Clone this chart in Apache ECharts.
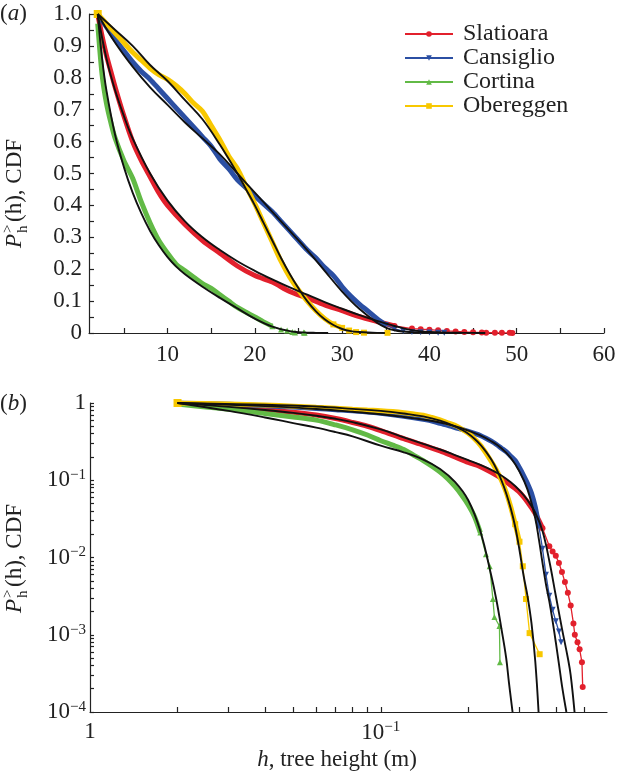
<!DOCTYPE html>
<html>
<head>
<meta charset="utf-8">
<script src="https://cdn.jsdelivr.net/npm/echarts@6/dist/echarts.min.js"></script>
<style>
html,body{margin:0;padding:0;background:#fff;}
#c{width:621px;height:778px;}
</style>
</head>
<body>
<div id="c"></div>
<script>
// ---------- data (tree height h in m, CDF P) ----------
const siteNames = ['Slatioara', 'Cansiglio', 'Cortina', 'Obereggen'];

// panel (a) values
const hSlatioara = [2, 2.5, 3, 3.5, 4, 5, 6, 7, 8, 9, 10, 12, 14, 16, 18, 20, 22, 24, 26, 28, 30, 32, 34, 36, 38, 39, 40, 41, 42, 43, 44, 45, 46, 46.5, 47.5, 48.3, 49.2, 49.5];
const pSlatioara = [1.0, 0.93, 0.87, 0.82, 0.77, 0.68, 0.60, 0.54, 0.49, 0.44, 0.40, 0.34, 0.29, 0.25, 0.21, 0.18, 0.16, 0.13, 0.11, 0.088, 0.07, 0.051, 0.036, 0.022, 0.014, 0.012, 0.0105, 0.0085, 0.0065, 0.0048, 0.0035, 0.0024, 0.0014, 0.001, 0.0008, 0.00065, 0.00044, 0.00021];

const hCansiglio = [2, 3, 4, 5, 6, 7, 8, 9, 10, 11, 12, 13, 14, 15, 16, 17, 18, 19, 20, 21, 22, 23, 24, 25, 26, 27, 28, 29, 30, 31, 32, 33, 34, 35, 36, 37, 38, 39, 40, 41, 41.7];
const pCansiglio = [1.0, 0.96, 0.92, 0.885, 0.85, 0.82, 0.795, 0.765, 0.735, 0.705, 0.675, 0.645, 0.615, 0.585, 0.545, 0.515, 0.48, 0.455, 0.43, 0.405, 0.38, 0.35, 0.32, 0.29, 0.26, 0.235, 0.205, 0.18, 0.145, 0.115, 0.09, 0.068, 0.045, 0.025, 0.013, 0.006, 0.0032, 0.0021, 0.0015, 0.0011, 0.0008];

const hCortina = [2, 2.5, 3, 3.5, 4, 5, 6, 7, 8, 9, 10, 11, 12, 13, 14, 15, 16, 17, 18, 19, 20, 21, 22, 23, 23.7, 24.3, 24.6, 25.6, 25.7];
const pCortina = [0.97, 0.81, 0.72, 0.66, 0.61, 0.54, 0.485, 0.41, 0.345, 0.29, 0.25, 0.215, 0.195, 0.175, 0.155, 0.14, 0.12, 0.10, 0.08, 0.065, 0.05, 0.035, 0.021, 0.011, 0.0077, 0.0029, 0.0017, 0.0013, 0.00044];

const hObereggen = [2, 3, 4, 5, 6, 7, 8, 9, 10, 11, 12, 13, 14, 15, 16, 17, 18, 19, 20, 21, 22, 23, 24, 25, 26, 27, 28, 29, 30, 30.8, 31.6, 32.5, 35.2];
const pObereggen = [1.0, 0.97, 0.94, 0.91, 0.88, 0.855, 0.83, 0.81, 0.795, 0.775, 0.75, 0.72, 0.695, 0.65, 0.605, 0.555, 0.515, 0.46, 0.405, 0.345, 0.285, 0.225, 0.175, 0.135, 0.1, 0.07, 0.045, 0.027, 0.016, 0.0077, 0.0029, 0.00105, 0.00056];

const hSlatioaraLog = [2, 3, 4, 5, 6, 7, 8, 9, 10, 12, 14, 16, 18, 20, 22, 24, 26, 28, 30, 32, 34, 36, 38, 39, 40, 41, 42, 43, 44, 45, 46, 46.5, 47.5, 48.3, 49.2, 49.5];
const pSlatioaraLog = [1.0, 0.9, 0.82, 0.76, 0.7, 0.63, 0.56, 0.5, 0.44, 0.345, 0.285, 0.24, 0.2, 0.17, 0.15, 0.127, 0.106, 0.086, 0.07, 0.052, 0.037, 0.024, 0.014, 0.012, 0.0105, 0.0085, 0.0065, 0.0048, 0.0035, 0.0024, 0.0014, 0.001, 0.0008, 0.00065, 0.00044, 0.00021];

const hCortinaLog = [2, 2.5, 3, 3.5, 4, 5, 6, 7, 8, 9, 10, 11, 12, 13, 14, 15, 16, 17, 18, 19, 20, 21, 22, 23, 23.7, 24.3, 24.6, 25.6, 25.7];
const pCortinaLog = [0.97, 0.89, 0.83, 0.78, 0.73, 0.66, 0.6, 0.52, 0.45, 0.385, 0.325, 0.285, 0.25, 0.21, 0.18, 0.152, 0.128, 0.105, 0.083, 0.064, 0.048, 0.034, 0.021, 0.011, 0.0077, 0.0029, 0.0017, 0.0013, 0.00044];

// fitted curves (black)
const hFitSlatioara = [2, 3, 4, 5, 6, 8, 10, 12, 14, 16, 18, 20, 22, 24, 26, 28, 30, 32, 34, 36, 38, 40, 42, 44, 45, 46.4];
const pFitSlatioara = [1.0, 0.86, 0.76, 0.68, 0.61, 0.50, 0.415, 0.35, 0.30, 0.26, 0.225, 0.195, 0.168, 0.143, 0.12, 0.097, 0.076, 0.056, 0.038, 0.022, 0.009, 0.0032, 0.0012, 0.0005, 0.0003, 0.0001];

const hFitSlatioaraLog = [2, 3, 4, 5, 6, 7, 8, 10, 12, 14, 16, 18, 20, 22, 24, 26, 28, 30, 32, 34, 36, 38, 40, 42, 44, 45, 46.4];
const pFitSlatioaraLog = [1.0, 0.89, 0.81, 0.745, 0.685, 0.625, 0.565, 0.455, 0.36, 0.295, 0.25, 0.212, 0.182, 0.158, 0.136, 0.115, 0.094, 0.074, 0.055, 0.038, 0.022, 0.009, 0.0032, 0.0012, 0.0005, 0.0003, 0.0001];

const hFitCansiglio = [2, 4, 6, 8, 10, 12, 14, 16, 18, 20, 22, 24, 26, 28, 30, 32, 34, 35, 36, 37, 38, 39, 40, 41, 42, 43.5];
const pFitCansiglio = [1.0, 0.91, 0.835, 0.77, 0.715, 0.66, 0.61, 0.56, 0.5, 0.44, 0.38, 0.32, 0.26, 0.195, 0.13, 0.075, 0.032, 0.017, 0.0085, 0.0045, 0.0027, 0.0015, 0.0008, 0.00042, 0.00022, 0.0001];

const hFitCortina = [2, 2.5, 3, 4, 5, 6, 7, 8, 9, 10, 11, 12, 14, 16, 18, 20, 22, 24, 25, 26, 27, 27.6, 28.4];
const pFitCortina = [1.0, 0.86, 0.76, 0.62, 0.52, 0.44, 0.375, 0.32, 0.275, 0.238, 0.208, 0.184, 0.145, 0.11, 0.077, 0.045, 0.02, 0.0058, 0.0028, 0.0012, 0.0005, 0.00024, 0.0001];

const hFitCortinaLog = [2, 3, 4, 5, 6, 7, 8, 10, 12, 14, 16, 18, 20, 22, 24, 25, 26, 27, 27.6, 28.4];
const pFitCortinaLog = [1.0, 0.79, 0.65, 0.55, 0.48, 0.42, 0.37, 0.28, 0.23, 0.185, 0.14, 0.095, 0.055, 0.022, 0.0058, 0.0028, 0.0012, 0.0005, 0.00024, 0.0001];

const hFitObereggen = [2, 4, 6, 8, 10, 12, 14, 16, 18, 19, 20, 21, 22, 23, 24, 25, 26, 27, 28, 29, 30, 31, 32, 33, 34, 34.9];
const pFitObereggen = [1.0, 0.95, 0.9, 0.84, 0.79, 0.73, 0.67, 0.59, 0.5, 0.45, 0.4, 0.345, 0.29, 0.235, 0.185, 0.14, 0.1, 0.068, 0.043, 0.025, 0.0125, 0.0058, 0.0031, 0.0014, 0.00045, 0.0001];

// tick labels
const xLabelsA = [10, 20, 30, 40, 50, 60];
const xTicksA = [5, 10, 15, 20, 25, 30, 35, 40, 45, 50, 55, 60];
const xLabelsB = [1, 10];
const xTicksB = [2, 3, 4, 5, 6, 7, 8, 9, 10, 20, 30, 40, 50];
const yLabelsB = [1, 0.1, 0.01, 0.001, 0.0001];
const yLabelTextB = {1: '1', 0.1: '−1', 0.01: '−2', 0.001: '−3', 0.0001: '−4'};
const xLabelTextB = {1: '1', 10: '−1'};

// ---------- styles ----------
const FONT = '"Liberation Serif", "Times New Roman", serif';
const colors = ['#e2202c', '#2b4fa3', '#62ba46', '#f8c800'];
const symbols = ['circle', 'triangle', 'triangle', 'rect'];
const symbolRot = [0, 180, 0, 0];
const panelH = [
  [hSlatioara, hCansiglio, hCortina, hObereggen],
  [hSlatioaraLog, hCansiglio, hCortinaLog, hObereggen]
];
const panelP = [
  [pSlatioara, pCansiglio, pCortina, pObereggen],
  [pSlatioaraLog, pCansiglio, pCortinaLog, pObereggen]
];
const panelFitH = [
  [hFitSlatioara, hFitCansiglio, hFitCortina, hFitObereggen],
  [hFitSlatioaraLog, hFitCansiglio, hFitCortinaLog, hFitObereggen]
];
const panelFitP = [
  [pFitSlatioara, pFitCansiglio, pFitCortina, pFitObereggen],
  [pFitSlatioaraLog, pFitCansiglio, pFitCortinaLog, pFitObereggen]
];

function zip(h, p) { return h.map((v, i) => [v, p[i]]); }

const yTicksB = [];
[0.0001, 0.001, 0.01, 0.1].forEach(d => { for (let k = 1; k <= 9; k++) yTicksB.push(+(d * k).toPrecision(3)); });
yTicksB.push(1);

const series = [];
for (let panel = 0; panel < 2; panel++) {
  for (let s = 0; s < 4; s++) {
    const all = zip(panelH[panel][s], panelP[panel][s]);
    const band = all.filter(d => d[1] >= 0.015).map((d, i) =>
      (i === 0 && s === 3) ? {value: d, symbol: 'rect', symbolSize: 8} : {value: d});
    series.push({
      name: siteNames[s] + ' band', type: 'line', xAxisIndex: panel, yAxisIndex: panel,
      data: band, symbol: 'none', showSymbol: true, showAllSymbol: true, smooth: 0.3,
      lineStyle: {color: colors[s], width: 5}, itemStyle: {color: colors[s]}, z: 2, silent: true
    });
    series.push({
      name: siteNames[s], type: 'line', xAxisIndex: panel, yAxisIndex: panel,
      data: all.filter(d => d[1] <= 0.03), symbol: symbols[s], symbolRotate: symbolRot[s],
      symbolSize: 6, showAllSymbol: true,
      lineStyle: {color: colors[s], width: 1.3}, itemStyle: {color: colors[s]}, z: 3, silent: true
    });
  }
  for (let s = 0; s < 4; s++) {
    series.push({
      name: siteNames[s] + ' fit', type: 'line', xAxisIndex: panel, yAxisIndex: panel,
      data: zip(panelFitH[panel][s], panelFitP[panel][s]), showSymbol: false, smooth: 0.4,
      lineStyle: {color: '#111', width: 1.9}, z: 5, silent: true
    });
  }
}

const axisLineStyle = {color: '#222', width: 1.2};
const labelBase = {fontFamily: FONT, fontSize: 23, color: '#222'};
const richSup = {
  b: {fontFamily: FONT, fontSize: 23, color: '#222'},
  s: {fontFamily: FONT, fontSize: 15, color: '#222', verticalAlign: 'top', padding: [0, 0, 10, 0]}
};

const option = {
  animation: false,
  backgroundColor: '#fff',
  grid: [
    {left: 89, top: 14, width: 515, height: 319},
    {left: 90, top: 403, width: 517, height: 309}
  ],
  legend: {
    data: siteNames.map(n => ({name: n})),
    orient: 'vertical', left: 404, top: 22, padding: 0, itemWidth: 48, itemHeight: 7, itemGap: 0,
    textStyle: {fontFamily: FONT, fontSize: 24, color: '#222', lineHeight: 21.6, padding: [0, 0, 0, 5]},
    selectedMode: false
  },
  xAxis: [
    {
      gridIndex: 0, type: 'value', min: 1, max: 60,
      axisLine: {lineStyle: axisLineStyle},
      axisTick: {inside: true, length: 5, customValues: xTicksA, lineStyle: axisLineStyle},
      axisLabel: Object.assign({customValues: xLabelsA, margin: 10}, labelBase),
      splitLine: {show: false}
    },
    {
      gridIndex: 1, type: 'log', logBase: 10, min: 1, max: 60,
      axisLine: {lineStyle: axisLineStyle},
      axisTick: {inside: true, length: 5, customValues: xTicksB, lineStyle: axisLineStyle},
      axisLabel: {
        customValues: xLabelsB, margin: 8,
        formatter: v => v === 1 ? '{b|1}' : '{b|10}{s|' + xLabelTextB[10] + '}',
        rich: richSup
      },
      splitLine: {show: false}, minorTick: {show: false}
    }
  ],
  yAxis: [
    {
      gridIndex: 0, type: 'value', min: 0, max: 1, interval: 0.1,
      axisLine: {show: true, lineStyle: axisLineStyle},
      axisTick: {show: true, inside: true, length: 5, lineStyle: axisLineStyle},
      minorTick: {show: true, splitNumber: 2, length: 5, lineStyle: axisLineStyle},
      axisLabel: Object.assign({margin: 7, formatter: v => v === 0 ? '0' : v.toFixed(1)}, labelBase),
      splitLine: {show: false}
    },
    {
      gridIndex: 1, type: 'log', logBase: 10, min: 0.0001, max: 1,
      axisLine: {show: true, lineStyle: axisLineStyle},
      axisTick: {show: true, inside: true, length: 4, customValues: yTicksB, lineStyle: axisLineStyle},
      axisLabel: {
        customValues: yLabelsB, margin: 4,
        formatter: v => {
          const key = Object.keys(yLabelTextB).find(k => Math.abs(Math.log10(+k) - Math.log10(v)) < 1e-6);
          return +key === 1 ? '{b|1}' : '{b|10}{s|' + yLabelTextB[key] + '}';
        },
        rich: richSup
      },
      splitLine: {show: false}
    }
  ],
  graphic: [
    {type: 'text', x: 0, y: 2, style: {rich: {a: {font: '23px ' + FONT}, i: {font: 'italic 23px ' + FONT}}, text: '{a|(}{i|a}{a|)}', fill: '#222'}},
    {type: 'text', x: 0, y: 392, style: {rich: {a: {font: '23px ' + FONT}, i: {font: 'italic 23px ' + FONT}}, text: '{a|(}{i|b}{a|)}', fill: '#222'}},
    {
      type: 'group', x: 26, y: 248, rotation: Math.PI / 2,
      children: [
        {type: 'text', x: 0, y: 0, style: {text: 'P', font: 'italic 23px ' + FONT, fill: '#222', verticalAlign: 'bottom'}},
        {type: 'text', x: 15, y: -10, style: {text: '>', font: '15px ' + FONT, fill: '#222', verticalAlign: 'bottom'}},
        {type: 'text', x: 15, y: 5, style: {text: 'h', font: '15px ' + FONT, fill: '#222', verticalAlign: 'bottom'}},
        {type: 'text', x: 26, y: 0, style: {text: '(h), CDF', font: '23px ' + FONT, fill: '#222', verticalAlign: 'bottom'}}
      ]
    },
    {
      type: 'group', x: 26, y: 613, rotation: Math.PI / 2,
      children: [
        {type: 'text', x: 0, y: 0, style: {text: 'P', font: 'italic 23px ' + FONT, fill: '#222', verticalAlign: 'bottom'}},
        {type: 'text', x: 15, y: -10, style: {text: '>', font: '15px ' + FONT, fill: '#222', verticalAlign: 'bottom'}},
        {type: 'text', x: 15, y: 5, style: {text: 'h', font: '15px ' + FONT, fill: '#222', verticalAlign: 'bottom'}},
        {type: 'text', x: 26, y: 0, style: {text: '(h), CDF', font: '23px ' + FONT, fill: '#222', verticalAlign: 'bottom'}}
      ]
    },
    {
      type: 'text', x: 337, y: 760,
      style: {
        rich: {a: {font: '23px ' + FONT}, i: {font: 'italic 23px ' + FONT}},
        text: '{i|h}{a|, tree height (m)}', fill: '#222', align: 'center', verticalAlign: 'middle'
      }
    }
  ],
  series: series
};

const chart = echarts.init(document.getElementById('c'), null, {renderer: 'canvas'});
chart.setOption(option);
</script>
</body>
</html>
